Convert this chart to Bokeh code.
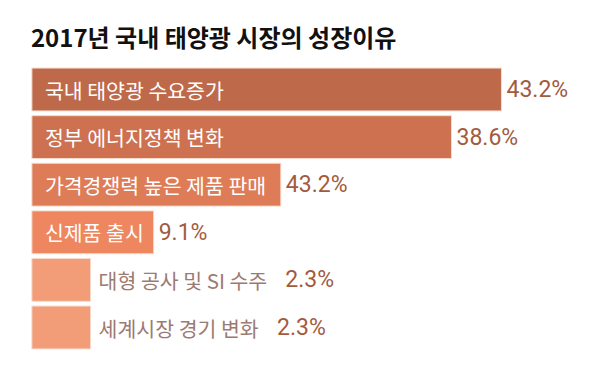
from bokeh.plotting import figure
from bokeh.models import Range1d, ColumnDataSource, Label
from bokeh.core.properties import value
from bokeh.embed import file_html
from bokeh.resources import INLINE

title_text = "2017년 국내 태양광 시장의 성장이유"
categories = ["국내 태양광 수요증가", "정부 에너지정책 변화", "가격경쟁력 높은 제품 판매",
              "신제품 출시", "대형 공사 및 SI 수주", "세계시장 경기 변화"]
value_labels = ["43.2%", "38.6%", "43.2%", "9.1%", "2.3%", "2.3%"]
# drawn bar lengths (same units as the first bar's 43.2)
bar_lengths = [43.2, 38.6, 22.9, 11.2, 5.4, 5.4]
bar_colors = ["#BE6A4A", "#CD7150", "#DE7C58", "#EE8660", "#F29D78", "#F29D78"]
label_inside = [True, True, True, True, False, False]

W, H = 584, 376
px_per_unit = 10.87
x0_px = 31.4
pitch = 47.6
y0_px = 89.0

p = figure(width=W, height=H, output_backend="svg", toolbar_location=None,
           x_axis_type=None, y_axis_type=None, min_border=0,
           x_range=Range1d(-x0_px / px_per_unit, (W - x0_px) / px_per_unit),
           y_range=Range1d((H - y0_px) / pitch, -y0_px / pitch))
p.outline_line_color = None
p.grid.visible = False
p.background_fill_color = "white"
p.border_fill_color = "white"

idx = list(range(len(categories)))
src = ColumnDataSource(dict(y=idx, right=bar_lengths, color=bar_colors))
p.hbar(y="y", left=0, right="right", height=0.9, fill_color="color",
       line_color="#F7D9CB", line_width=1, source=src)

KFONT = "Noto Sans CJK KR"
IN_PX = 20.5
OUT_PX = 20.5
VAL_PX = 23


def est_width(s, size):
    w = 0.0
    for c in s:
        if '\uac00' <= c <= '\ud7a3':
            w += 0.94
        elif c == ' ':
            w += 0.25
        elif c == 'I':
            w += 0.26
        else:
            w += 0.58
    return w * size


in_y = [i for i in idx if label_inside[i]]
p.text(x=[0] * len(in_y), y=in_y, text=[categories[i] for i in in_y],
       x_offset=13, text_baseline="middle", text_align="left",
       text_color="white", text_font=value(KFONT), text_font_size=f"{IN_PX}px")

out_y = [i for i in idx if not label_inside[i]]
p.text(x=[bar_lengths[i] for i in out_y], y=out_y, text=[categories[i] for i in out_y],
       x_offset=8, text_baseline="middle", text_align="left",
       text_color="#9C7A72", text_font=value(KFONT), text_font_size=f"{OUT_PX}px")

# value labels
vx_off = []
for i in idx:
    if label_inside[i]:
        vx_off.append(5)
    else:
        vx_off.append(8 + est_width(categories[i], OUT_PX) + 14)
vsrc = ColumnDataSource(dict(x=bar_lengths, y=idx, text=value_labels, xo=vx_off))
p.text(x="x", y="y", text="text", x_offset="xo", source=vsrc,
       text_baseline="middle", text_align="left", text_color="#A35B40",
       text_font=value("Roboto"), text_font_size=f"{VAL_PX}px")

p.add_layout(Label(x=x0_px - 1, y=H - 36, x_units="screen", y_units="screen",
                   text=title_text, text_font=KFONT, text_font_size="24px",
                   text_font_style="bold", text_color="#111111",
                   text_baseline="middle", text_align="left"))

open("out.html", "w").write(file_html(p, INLINE))
